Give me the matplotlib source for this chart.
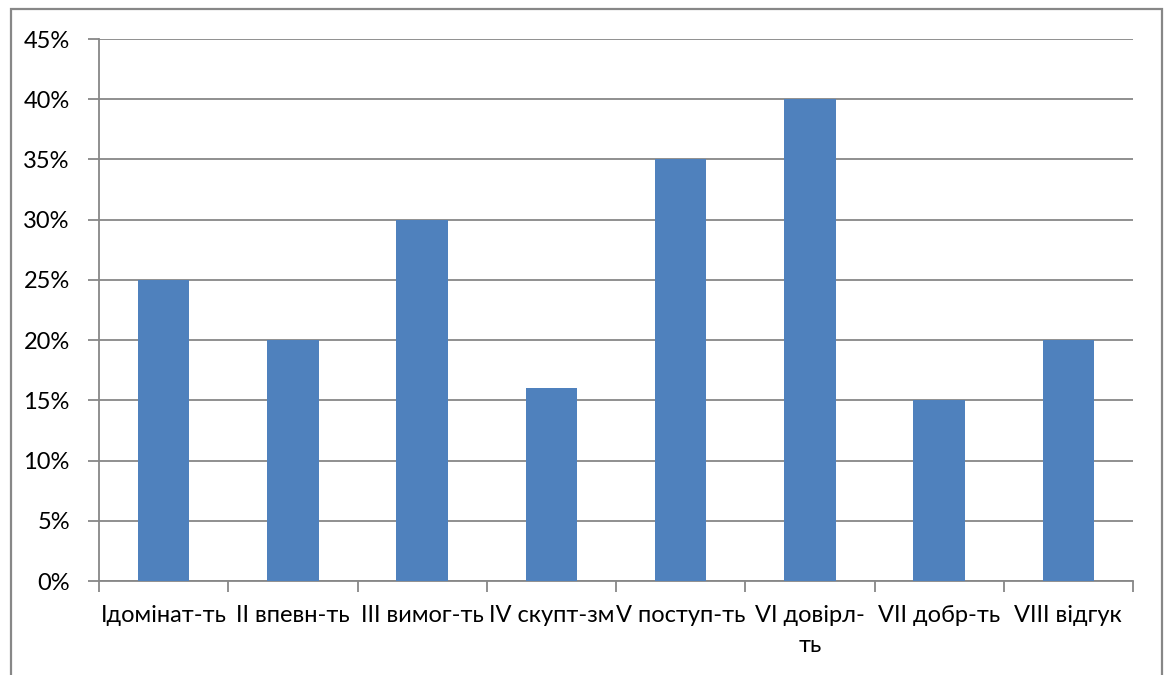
import matplotlib.pyplot as plt
from matplotlib.patches import Rectangle
from matplotlib.ticker import FuncFormatter
import numpy as np

categories = ['Ідомінат-ть', 'II впевн-ть', 'III вимог-ть', 'IV скупт-зм',
              'V поступ-ть', 'VI довірл-\nть', 'VII добр-ть', 'VIII відгук']
values = [25, 20, 30, 16, 35, 40, 15, 20]
yticks = list(range(0, 50, 5))

plt.rcParams['font.family'] = ['Lato', 'DejaVu Sans']
grey = '#878787'

fig = plt.figure(figsize=(11.67, 6.75), dpi=100, facecolor='w')
ax = fig.add_axes([99 / 1167, 1 - 581 / 675, 1034 / 1167, 542 / 675])

x = np.arange(len(categories))
ax.bar(x, values, width=0.4, color='#4F81BD', zorder=3)

ax.set_xlim(-0.5, len(categories) - 0.5)
ax.set_ylim(0, 45)
ax.set_yticks(yticks)
ax.yaxis.set_major_formatter(FuncFormatter(lambda v, p: f'{v:.0f}%'))
ax.grid(axis='y', color=grey, linewidth=1.3, zorder=0)

# category labels centred, ticks on the category boundaries
ax.set_xticks(x)
ax.set_xticklabels(categories, fontsize=17, linespacing=1.55, va='top')
ax.tick_params(axis='x', length=0, pad=17)
ax.set_xticks(np.arange(-0.5, len(categories)), minor=True)
ax.tick_params(axis='x', which='minor', length=8, width=1.3, color=grey, direction='out')
ax.tick_params(axis='y', length=8, width=1.3, color=grey, direction='out', labelsize=17, pad=13)

for s in ['top', 'right']:
    ax.spines[s].set_visible(False)
for s in ['left', 'bottom']:
    ax.spines[s].set_color(grey)
    ax.spines[s].set_linewidth(1.3)

# chart frame, open at the bottom
frame = Rectangle((11 / 1167, -0.1), 1151 / 1167, 1.1 - 9 / 675,
                  transform=fig.transFigure, fill=False,
                  edgecolor=grey, linewidth=1.6, clip_on=False)
fig.patches.append(frame)

fig.savefig('out.png', dpi=100)
